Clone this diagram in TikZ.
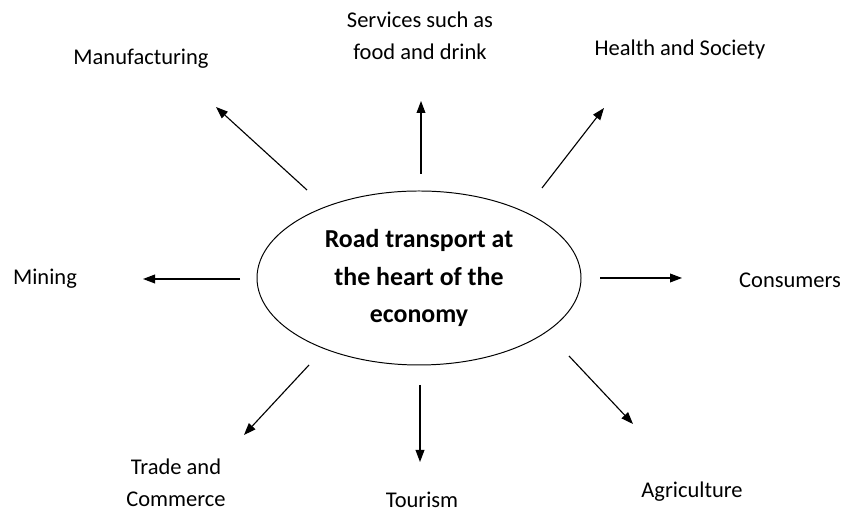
\documentclass[tikz,border=0pt]{standalone}
\usepackage{fontspec}
\setmainfont{Carlito}
\usetikzlibrary{arrows.meta,shapes.geometric}

\tikzset{
  sector/.style={align=center, inner sep=1pt, font=\fontsize{16}{22.8}\selectfont},
  hubtext/.style={align=center, font=\fontsize{18.4}{27}\selectfont\bfseries},
  arr/.style={line width=0.8pt, -{Triangle[length=3mm, width=2.2mm]}}
}

\begin{document}
\begin{tikzpicture}
	\useasboundingbox (0,0) rectangle (21.075,12.8);

	% the hub in the middle
	\node[draw, line width=0.7pt, ellipse, minimum width=8.1cm, minimum height=4.35cm, inner sep=0pt, hubtext] (hub) at (10.475, 5.85) {Road transport at\\the heart of the\\economy};

	% sectors round it
	\node[sector] (mfg) at (3.525, 11.325) {Manufacturing};
	\node[sector] (serv) at (10.5, 11.9) {Services such as\\food and drink};
	\node[sector] (health) at (17.0, 11.55) {Health and Society};
	\node[sector] (mining) at (1.125, 5.825) {Mining};
	\node[sector] (cons) at (19.75, 5.8) {Consumers};
	\node[sector] (trade) at (4.4, 0.74) {Trade and\\Commerce};
	\node[sector] (tour) at (10.55, 0.3) {Tourism};
	\node[sector] (agri) at (17.3, 0.5) {Agriculture};

	% arrow ends
	\coordinate (mfgT) at (7.675, 8.05);   \coordinate (mfgH) at (5.4, 10.125);
	\coordinate (servT) at (10.525, 8.45); \coordinate (servH) at (10.525, 10.275);
	\coordinate (hlthT) at (13.55, 8.1);   \coordinate (hlthH) at (15.1, 10.1);
	\coordinate (minT) at (6.0, 5.825);    \coordinate (minH) at (3.575, 5.825);
	\coordinate (consT) at (15.0, 5.85);   \coordinate (consH) at (17.05, 5.85);
	\coordinate (tradeT) at (7.725, 3.675); \coordinate (tradeH) at (6.1, 1.925);
	\coordinate (tourT) at (10.5, 3.175);  \coordinate (tourH) at (10.5, 1.25);
	\coordinate (agriT) at (14.225, 3.9);  \coordinate (agriH) at (15.825, 2.2);

	\draw[arr] (mfgT) -- (mfgH);
	\draw[arr] (servT) -- (servH);
	\draw[arr] (hlthT) -- (hlthH);
	\draw[arr] (minT) -- (minH);
	\draw[arr] (consT) -- (consH);
	\draw[arr] (tradeT) -- (tradeH);
	\draw[arr] (tourT) -- (tourH);
	\draw[arr] (agriT) -- (agriH);
\end{tikzpicture}
\end{document}
